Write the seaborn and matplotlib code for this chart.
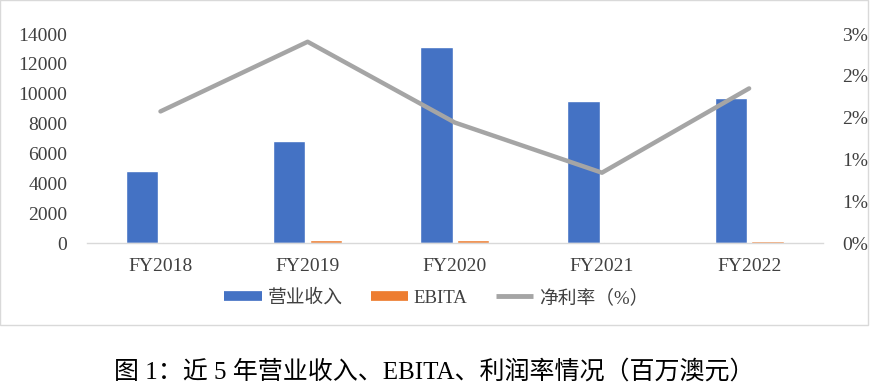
import numpy as np
import pandas as pd
import seaborn as sns
import matplotlib.pyplot as plt
from matplotlib.lines import Line2D
from matplotlib.patches import Rectangle
from matplotlib.ticker import FuncFormatter, MultipleLocator

# dados (milhões de AUD)
anos = ['FY2018', 'FY2019', 'FY2020', 'FY2021', 'FY2022']
receita = [4820, 6850, 13110, 9530, 9730]
ebita = [40, 180, 220, 80, 170]
margem = [1.89, 2.89, 1.73, 1.01, 2.22]  # %

sns.set_theme(style='white')
plt.rcParams['font.family'] = ['Liberation Serif', 'Noto Sans CJK SC']

df = pd.DataFrame({'ano': anos * 2,
                   'valor': receita + ebita,
                   'serie': ['营业收入'] * 5 + ['EBITA'] * 5})

fig = plt.figure(figsize=(8.78, 3.92), dpi=100)
ax = fig.add_axes([0.099, 0.38, 0.838, 0.533])

sns.barplot(data=df, x='ano', y='valor', hue='serie', ax=ax,
            palette=['#4472C4', '#ED7D31'], width=0.5, gap=0.12,
            saturation=1, legend=False)
ax.set_ylim(0, 14000)
ax.yaxis.set_major_locator(MultipleLocator(2000))
ax.set_xlabel('')
ax.set_ylabel('')
for s in ['top', 'left', 'right']:
    ax.spines[s].set_visible(False)
ax.spines['bottom'].set_color('#D9D9D9')
ax.spines['bottom'].set_linewidth(1)
ax.tick_params(axis='y', length=0, pad=14, labelsize=14, colors='#404040')
ax.tick_params(axis='x', length=0, pad=11, labelsize=14, colors='#404040')

ax2 = ax.twinx()
sns.lineplot(x=np.arange(len(anos)), y=margem, ax=ax2, color='#A5A5A5',
             linewidth=3.2)
ax2.set_ylim(0, 3)
ax2.set_yticks(np.linspace(0, 3, 6))
ax2.yaxis.set_major_formatter(FuncFormatter(lambda v, p: '%d%%' % int(v + 0.5)))
ax2.tick_params(axis='y', length=0, pad=14, labelsize=14, colors='#404040')
for s in ['top', 'left', 'right', 'bottom']:
    ax2.spines[s].set_visible(False)
ax2.grid(False)
ax.set_xlim(-0.5, len(anos) - 0.5)

# legenda embaixo
handles = [Line2D([], [], color='#4472C4', linewidth=7, solid_capstyle='butt'),
           Line2D([], [], color='#ED7D31', linewidth=7, solid_capstyle='butt'),
           Line2D([], [], color='#A5A5A5', linewidth=3.5, solid_capstyle='butt')]
fig.legend(handles, ['营业收入', 'EBITA', '净利率（%）'], loc='center',
           bbox_to_anchor=(0.497, 0.24), ncol=3, frameon=False,
           handlelength=2.0, handletextpad=0.3, columnspacing=1.5,
           fontsize=13.5, labelcolor='#404040')

# moldura do gráfico
fig.patches.append(Rectangle((0.0, 1 - 325 / 392), 868 / 878, 325 / 392,
                             transform=fig.transFigure, fill=False,
                             edgecolor='#D9D9D9', linewidth=1))

fig.text(0.495, 1 - 372 / 392, '图 1：近 5 年营业收入、EBITA、利润率情况（百万澳元）',
         ha='center', va='center', fontsize=18, color='black')

fig.savefig('out.png', dpi=100)
